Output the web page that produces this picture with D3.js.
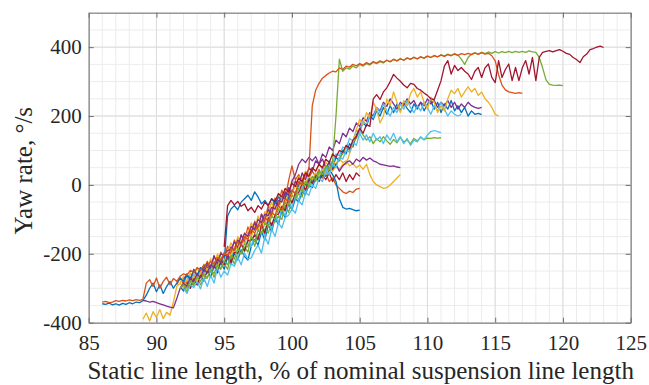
<!DOCTYPE html>
<html>
<head>
<meta charset="utf-8">
<script src="https://cdn.jsdelivr.net/npm/d3@7"></script>
<style>
  body { margin: 0; background: #fff; }
  svg { display: block; }
</style>
</head>
<body>
<svg id="chart" width="649" height="385"></svg>
<script>
// Axis ticks
const xTicks = [85, 90, 95, 100, 105, 110, 115, 120, 125];
const yTicks = [-400, -200, 0, 200, 400];
const xDomain = [85, 125];
const yDomain = [-400, 500];

// Each run is sampled every 0.25 % of line length from its start value
const sampleStep = 0.25;

// Yaw rate (deg/s) per run
const blue1Start = 86.0;
const blue1Y = [-345, -347, -343, -348, -345, -349, -344, -347, -342, -345, -340, -342, -336,
  -320, -300, -285, -310, -290, -315, -295, -280, -300, -285, -270, -280,
  -262, -270, -250, -262, -240, -252, -232, -245, -225, -235, -215, -225,
  -90, -70, -60, -72, -50, -40, -30, -45, -20, -35, -55, -45,
  -60, -40, -55, -35, -45, -25, -40, -15, -25, 0, 10, 0,
  20, 10, 30, 20, 40, 25, 45, 30, 10, -40, -65, -70, -68, -72, -75, -73];

const orange1Start = 86.0;
const orange1Y = [-340, -338, -342, -340, -336, -338, -335, -337, -334, -336, -333, -335, -332,
  -285, -275, -295, -270, -300, -280, -268, -290, -272, -280, -265, -258,
  -262, -248, -255, -240, -248, -232, -240, -222, -230, -210, -218, -198,
  -205, -185, -190, -165, -175, -150, -158, -130, -140, -115, -122, -95,
  -105, -80, -88, -60, -72, -40, -50, -15, -25, 10, 0, 30, 45,
  230, 275, 295, 310, 318, 325, 330, 328, 340, 335, 345,
  342, 350, 346, 352, 348, 355, 350, 358, 354, 360, 356, 362, 358, 365, 360, 366, 362, 368, 365, 370,
  366, 372, 368, 374, 370, 375, 372, 377, 373, 378, 375, 380, 376, 381, 378, 382, 378, 383, 379, 384,
  380, 382,
  375, 360, 320, 290, 276, 270, 268, 266, 268, 266];

const yellow1Start = 89.0;
const yellow1Y = [-390, -372, -395, -368, -385, -362, -388, -370, -378, -340, -295, -285, -300,
  -275, -290, -265, -278, -255, -265, -240, -250, -225, -238, -210, -222,
  -195, -205, -178, -188, -160, -170, -140, -150, -120, -132, -100, -112,
  -80, -95, -62, -75, -40, -55, -20, -30, 0, -10, 15, 5,
  25, 15, 35, 25, 45, 30, 50, 40, 55, 45, 60, 60,
  90, 120, 160, 190, 175, 210, 195, 240, 220, 180, 200, 250,
  230, 270, 240, 210, 245, 230, 265, 280, 255, 270, 240, 220,
  255, 240, 210, 230, 215, 250, 275, 265, 280, 255, 270, 285,
  270, 280, 260, 270, 250, 240, 225, 205, 200];

const purple1Start = 89.0;
const purple1Y = [-335, -337, -340, -338, -342, -345, -348, -352, -355, -357, -330, -300, -285,
  -295, -270, -282, -258, -270, -245, -255, -232, -240, -215, -225, -200,
  -210, -180, -190, -160, -170, -140, -150, -120, -130, -100, -110, -85,
  -90, -65, -70, -45, -50, -20, -30, 10, 30, 60, 75, 65,
  80, 70, 82, 60, 75, 50, 65, 45, 60, 40, 55, 65,
  70, 60, 75, 68, 80, 72, 78, 70, 66, 60, 58, 56,
  54, 55, 52, 50];

const green1Start = 92.0;
const green1Y = [-290, -310, -285, -292, -265, -290, -272, -270, -245, -268, -245, -240, -228,
  -245, -205, -230, -200, -200, -180, -195, -150, -178, -145, -140, -128,
  -140, -110, -108, -90, -100, -58, -80, -45, -42, -25, -35, 5,
  -8, 20, 10, 35, 25, 50, 42, 65, 58, 80, 90, 110,
  100, 125, 135, 160, 145, 130, 140, 120, 135, 125, 140, 128,
  118, 132, 122, 138, 125, 130, 120, 135, 128, 138, 132, 136,
  135, 137, 136, 137];

const cyan1Start = 92.0;
const cyan1Y = [-300, -315, -290, -298, -280, -302, -270, -295, -262, -285, -240, -268, -250,
  -262, -228, -236, -210, -232, -198, -215, -212, -190, -175, -198, -150,
  -172, -128, -150, -110, -125, -95, -88, -70, -82, -45, -58, -22,
  -30, 0, -10, 20, 10, 40, 30, 60, 50, 80, 75, 100,
  95, 125, 115, 150, 130, 145, 125, 150, 130, 140, 120, 145,
  130, 150, 125, 140, 120, 135, 115, 130, 125, 140, 130, 145,
  155, 158, 155, 152];

const darkred1Start = 95.0;
const darkred1Y = [-180, -60, -45, -58, -48, -62, -55, -75, -65, -80, -60, -70, -50,
  -60, -40, -48, -25, -35, -10, -20, 5, -5, 20, 10, 35,
  25, 50, 40, 60, 50, 75, 65, 90, 80, 100, 95, 115,
  105, 130, 140, 165, 150, 175, 170, 250, 262, 248, 270, 282,
  300, 321, 310, 301, 290, 282, 295, 292, 280, 275, 267, 260,
  250, 248, 275, 302, 345, 361, 322, 347, 332, 341, 330, 322,
  306, 330, 341, 312, 340, 351, 312, 297, 361, 312, 335, 351,
  303, 341, 303, 340, 361, 322, 370, 303, 370, 385, 388, 390,
  386, 390, 393, 388, 382, 379, 370, 364, 355, 372, 380, 393,
  396, 400, 403, 399];

const blue2Start = 91.75;
const blue2Y = [-295, -308, -280, -300, -272, -290, -258, -280, -246, -268,
  -236, -255, -225, -245, -210, -232, -198, -218, -188, -208, -218, -178,
  -158, -175, -136, -160, -116, -136, -96, -115, -76, -95, -55, -72,
  -40, -50, -20, -28, 0, -8, 20, 12, 40, 30, 60, 50,
  80, 70, 100, 90, 120, 110, 145, 160, 180, 170, 200, 190,
  215, 200, 225, 205, 230, 210, 235, 215, 240, 222, 210, 235,
  220, 240, 215, 235, 245, 220, 240, 210, 235, 220, 245, 215,
  230, 210, 225, 200, 215, 205, 208, 204];

const orange2Start = 91.5;
const orange2Y = [-290, -270, -288, -260, -278, -245, -265, -240, -245, -222, -240,
  -208, -228, -195, -212, -178, -200, -160, -182, -145, -162, -122, -145,
  -105, -125, -85, -102, -60, -82, -38, -58, -15, -40, 12, 55,
  15, 30, 10, 35, 20, 40, 25, 45, 20, 35, 10, 20,
  0, -10, -20, -25, -18, -22, -12, -10];

const yellow2Start = 91.75;
const yellow2Y = [-285, -265, -288, -255, -272, -240, -262, -230, -248, -215,
  -235, -200, -222, -195, -195, -168, -190, -150, -170, -140, -142, -110,
  -132, -90, -112, -78, -82, -50, -72, -30, -48, -10, -30, 15,
  0, 25, 15, 40, 30, 50, 40, 60, 45, 65, 55, 70,
  60, 75, 65, 70, 55, 62, 50, 58, 45, 60, 30, 10,
  0, -5, -10, -8, 0, 10, 20, 30];

const purple2Start = 92.0;
const purple2Y = [-275, -258, -280, -245, -262, -248, -240, -228, -242, -205, -230, -200, -205,
  -190, -188, -165, -185, -145, -168, -140, -138, -110, -130, -85, -110,
  -70, -90, -48, -62, -40, -40, -8, -28, 12, -5, 35, 15,
  50, 40, 70, 60, 90, 80, 110, 100, 130, 120, 150, 140,
  165, 155, 180, 170, 195, 185, 210, 200, 225, 215, 240, 228,
  250, 235, 220, 240, 230, 250, 235, 245, 225, 240, 230, 250,
  235, 245, 225, 240, 230, 245, 225, 240, 220, 235, 225, 240,
  230, 225, 222, 225];

const green2Start = 91.75;
const green2Y = [-300, -290, -300, -278, -288, -268, -280, -258, -270, -245,
  -258, -232, -245, -220, -232, -205, -215, -185, -200, -170, -180, -150,
  -165, -130, -142, -110, -120, -90, -100, -70, -78, -50, -58, -30,
  -38, -10, -18, 10, 0, 25, 15, 40, 30, 55, 45, 70,
  200, 365, 330, 340,
  336, 345, 340, 350, 345, 352, 348, 356, 352, 358, 354, 362, 357, 364, 360, 367, 362, 369, 364, 371,
  366, 372, 368, 374, 370, 376, 372, 378, 374, 380, 376, 381, 377, 365, 350, 370, 380, 384, 380, 385,
  381, 386, 382, 387, 383, 387, 384, 388, 384, 388, 385, 388, 385, 389, 386, 385,
  370, 340, 305, 292, 290, 289, 290, 288];

const cyan2Start = 92.0;
const cyan2Y = [-280, -265, -288, -260, -270, -252, -258, -232, -255, -222, -242, -208, -232,
  -198, -220, -180, -205, -172, -195, -155, -180, -140, -162, -122, -148,
  -105, -128, -88, -110, -68, -90, -48, -68, -25, -45, -5, -25,
  10, 0, 30, 22, 50, 40, 70, 62, 90, 85, 110, 105,
  135, 128, 160, 150, 185, 175, 205, 195, 225, 210, 235, 215,
  200, 225, 210, 235, 220, 245, 225, 210, 230, 215, 240, 225,
  205, 230, 215, 240, 220, 200, 215, 205, 200, 205];

const darkred2Start = 92.0;
const darkred2Y = [-300, -280, -300, -268, -290, -262, -265, -255, -250, -230, -255, -218, -232,
  -200, -225, -195, -198, -170, -192, -162, -160, -145, -158, -115, -140,
  -95, -118, -88, -85, -62, -75, -35, -52, -25, -22, 5, -15,
  15, 5, 25, 10, 30, 15, 35, 10, 30, 15, 35, 10,
  30, 15, 35, 25];

// MATLAB default line colour order
const palette = {
  blue: "#0072BD", orange: "#D95319", yellow: "#EDB120", purple: "#7E2F8E",
  green: "#77AC30", cyan: "#4DBEEE", darkred: "#A2142F"
};

// Drawing order (later runs sit on top)
const runs = [
  { color: palette.blue,    x0: blue2Start,    values: blue2Y },
  { color: palette.orange,  x0: orange2Start,  values: orange2Y },
  { color: palette.yellow,  x0: yellow2Start,  values: yellow2Y },
  { color: palette.purple,  x0: purple2Start,  values: purple2Y },
  { color: palette.green,   x0: green1Start,   values: green1Y },
  { color: palette.cyan,    x0: cyan2Start,    values: cyan2Y },
  { color: palette.darkred, x0: darkred2Start, values: darkred2Y },
  { color: palette.blue,    x0: blue1Start,    values: blue1Y },
  { color: palette.yellow,  x0: yellow1Start,  values: yellow1Y },
  { color: palette.purple,  x0: purple1Start,  values: purple1Y },
  { color: palette.cyan,    x0: cyan1Start,    values: cyan1Y },
  { color: palette.green,   x0: green2Start,   values: green2Y },
  { color: palette.orange,  x0: orange1Start,  values: orange1Y },
  { color: palette.darkred, x0: darkred1Start, values: darkred1Y }
];

const W = 649, H = 385;
const plot = { left: 88.7, right: 630.7, top: 12.7, bottom: 322.7 };
const serifFont = '"Liberation Serif", serif';

const svg = d3.select("#chart");
const x = d3.scaleLinear().domain(xDomain).range([plot.left, plot.right]);
const y = d3.scaleLinear().domain(yDomain).range([plot.bottom, plot.top]);

// Grid: minor every 1 % / 50 deg/s, major at the ticks
const grid = svg.append("g");
const xMinor = d3.range(xDomain[0], xDomain[1] + 0.001, 1);
const yMinor = d3.range(yDomain[0], yDomain[1] + 0.001, 50);
grid.selectAll("line.xm").data(xMinor).join("line")
  .attr("x1", d => x(d)).attr("x2", d => x(d))
  .attr("y1", plot.top).attr("y2", plot.bottom)
  .attr("stroke", "#ececec").attr("stroke-width", 1);
grid.selectAll("line.ym").data(yMinor).join("line")
  .attr("y1", d => y(d)).attr("y2", d => y(d))
  .attr("x1", plot.left).attr("x2", plot.right)
  .attr("stroke", "#ececec").attr("stroke-width", 1);
grid.selectAll("line.xM").data(xTicks).join("line")
  .attr("x1", d => x(d)).attr("x2", d => x(d))
  .attr("y1", plot.top).attr("y2", plot.bottom)
  .attr("stroke", "#dcdcdc").attr("stroke-width", 1);
grid.selectAll("line.yM").data(yTicks).join("line")
  .attr("y1", d => y(d)).attr("y2", d => y(d))
  .attr("x1", plot.left).attr("x2", plot.right)
  .attr("stroke", "#dcdcdc").attr("stroke-width", 1);

// Runs
const line = d3.line()
  .x(d => x(d.x))
  .y(d => y(d.y));
svg.append("g").selectAll("path").data(runs).join("path")
  .attr("d", r => line(r.values.map((v, i) => ({ x: r.x0 + i * sampleStep, y: v }))))
  .attr("fill", "none")
  .attr("stroke", r => r.color)
  .attr("stroke-width", 1.3)
  .attr("stroke-linejoin", "round");

// Axes (box with inward ticks on all four sides)
const fmt = d => String(d);
const axisColor = "#6e6e6e";
function styleAxis(g) {
  g.selectAll(".domain").attr("stroke", axisColor).attr("stroke-width", 1);
  g.selectAll(".tick line").attr("stroke", axisColor);
  g.selectAll(".tick text")
    .style("font-family", serifFont)
    .style("font-size", "21px")
    .style("fill", "#262626");
}
svg.append("g").attr("transform", `translate(0,${plot.bottom})`)
  .call(d3.axisBottom(x).tickValues(xTicks).tickFormat(fmt).tickSizeInner(-5).tickSizeOuter(0).tickPadding(12))
  .call(styleAxis);
svg.append("g").attr("transform", `translate(0,${plot.top})`)
  .call(d3.axisTop(x).tickValues(xTicks).tickFormat("").tickSizeInner(-5).tickSizeOuter(0))
  .call(styleAxis);
svg.append("g").attr("transform", `translate(${plot.left},0)`)
  .call(d3.axisLeft(y).tickValues(yTicks).tickFormat(fmt).tickSizeInner(-5).tickSizeOuter(0).tickPadding(7))
  .call(styleAxis);
svg.append("g").attr("transform", `translate(${plot.right},0)`)
  .call(d3.axisRight(y).tickValues(yTicks).tickFormat("").tickSizeInner(-5).tickSizeOuter(0))
  .call(styleAxis);

// Axis titles
svg.append("text")
  .attr("x", (plot.left + plot.right) / 2 + 1)
  .attr("y", 379)
  .attr("text-anchor", "middle")
  .style("font-family", serifFont)
  .style("font-size", "25px")
  .style("fill", "#262626")
  .text("Static line length, % of nominal suspension line length");
svg.append("text")
  .attr("transform", `translate(32,${(plot.top + plot.bottom) / 2 + 3}) rotate(-90)`)
  .attr("text-anchor", "middle")
  .style("font-family", serifFont)
  .style("font-size", "25px")
  .style("fill", "#262626")
  .text("Yaw rate, °/s");
</script>
</body>
</html>
